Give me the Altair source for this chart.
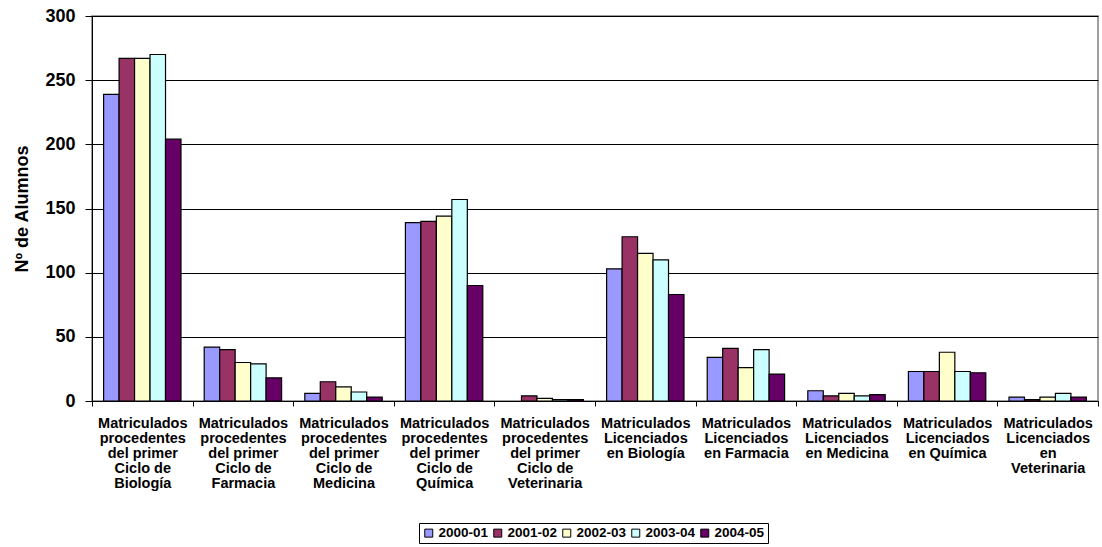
import altair as alt
import pandas as pd

# Course categories (line breaks are kept for the multi-line axis labels)
categories = [
    "Matriculados\nprocedentes\ndel primer\nCiclo de\nBiología",
    "Matriculados\nprocedentes\ndel primer\nCiclo de\nFarmacia",
    "Matriculados\nprocedentes\ndel primer\nCiclo de\nMedicina",
    "Matriculados\nprocedentes\ndel primer\nCiclo de\nQuímica",
    "Matriculados\nprocedentes\ndel primer\nCiclo de\nVeterinaria",
    "Matriculados\nLicenciados\nen Biología",
    "Matriculados\nLicenciados\nen Farmacia",
    "Matriculados\nLicenciados\nen Medicina",
    "Matriculados\nLicenciados\nen Química",
    "Matriculados\nLicenciados\nen\nVeterinaria",
]

years = ["2000-01", "2001-02", "2002-03", "2003-04", "2004-05"]

v_2000_01 = [239, 42, 6, 139, 0, 103, 34, 8, 23, 3]
v_2001_02 = [267, 40, 15, 140, 4, 128, 41, 4, 23, 1]
v_2002_03 = [267, 30, 11, 144, 2, 115, 26, 6, 38, 3]
v_2003_04 = [270, 29, 7, 157, 1, 110, 40, 4, 23, 6]
v_2004_05 = [204, 18, 3, 90, 1, 83, 21, 5, 22, 3]

colors = ["#9999FF", "#993366", "#FFFFCC", "#CCFFFF", "#660066"]

series = [v_2000_01, v_2001_02, v_2002_03, v_2003_04, v_2004_05]
rows = []
for year, vals in zip(years, series):
    for cat, v in zip(categories, vals):
        rows.append({"categoria": cat, "curso": year, "alumnos": v})
df = pd.DataFrame(rows)

FONT = "Liberation Sans"

bars = (
    alt.Chart(df)
    .transform_filter("datum.alumnos > 0")
    .mark_bar(stroke="black", strokeWidth=1.2, opacity=1)
    .encode(
        x=alt.X(
            "categoria:N",
            sort=categories,
            title=None,
            scale=alt.Scale(paddingInner=0, paddingOuter=0),
            axis=alt.Axis(
                labelExpr="split(datum.label, '\\n')",
                labelAngle=0,
                labelFont=FONT,
                labelFontWeight="bold",
                labelFontSize=14.5,
                labelLineHeight=15.2,
                labelColor="black",
                labelPadding=10,
                labelLimit=0,
                tickBand="extent",
                tickColor="black",
                tickSize=5,
                domainColor="black",
                grid=False,
            ),
        ),
        xOffset=alt.XOffset(
            "curso:N",
            sort=years,
            scale=alt.Scale(paddingInner=0, paddingOuter=0.75),
        ),
        y=alt.Y(
            "alumnos:Q",
            title="Nº de Alumnos",
            scale=alt.Scale(domain=[0, 300], nice=False),
            axis=alt.Axis(
                values=[0, 50, 100, 150, 200, 250, 300],
                labelFont=FONT,
                labelFontWeight="bold",
                labelFontSize=18,
                labelColor="black",
                labelPadding=10,
                tickColor="black",
                tickSize=7,
                domainColor="black",
                gridColor="black",
                gridWidth=1,
                titleFont=FONT,
                titleFontWeight="bold",
                titleFontSize=18,
                titleColor="black",
                titlePadding=13,
            ),
        ),
        color=alt.Color(
            "curso:N",
            sort=years,
            scale=alt.Scale(domain=years, range=colors),
            legend=alt.Legend(
                title=None,
                orient="none",
                direction="horizontal",
                legendX=327,
                legendY=507,
                strokeColor="black",
                padding=3,
                symbolType="square",
                symbolSize=64,
                symbolStrokeColor="black",
                symbolStrokeWidth=1,
                symbolOpacity=1,
                labelFont=FONT,
                labelFontWeight="bold",
                labelFontSize=13.5,
                labelColor="black",
                labelOffset=3,
                columnPadding=2,
            ),
        ),
    )
)

chart = (
    bars.properties(
        width=1006,
        height=385,
        autosize=alt.AutoSizeParams(type="none"),
        padding={"left": 92, "top": 16, "right": 4, "bottom": 146},
        background="white",
    )
    .configure_view(stroke="#808080", strokeWidth=1.5)
)

chart.save("out.html", embed_options={"renderer": "svg", "actions": False})
